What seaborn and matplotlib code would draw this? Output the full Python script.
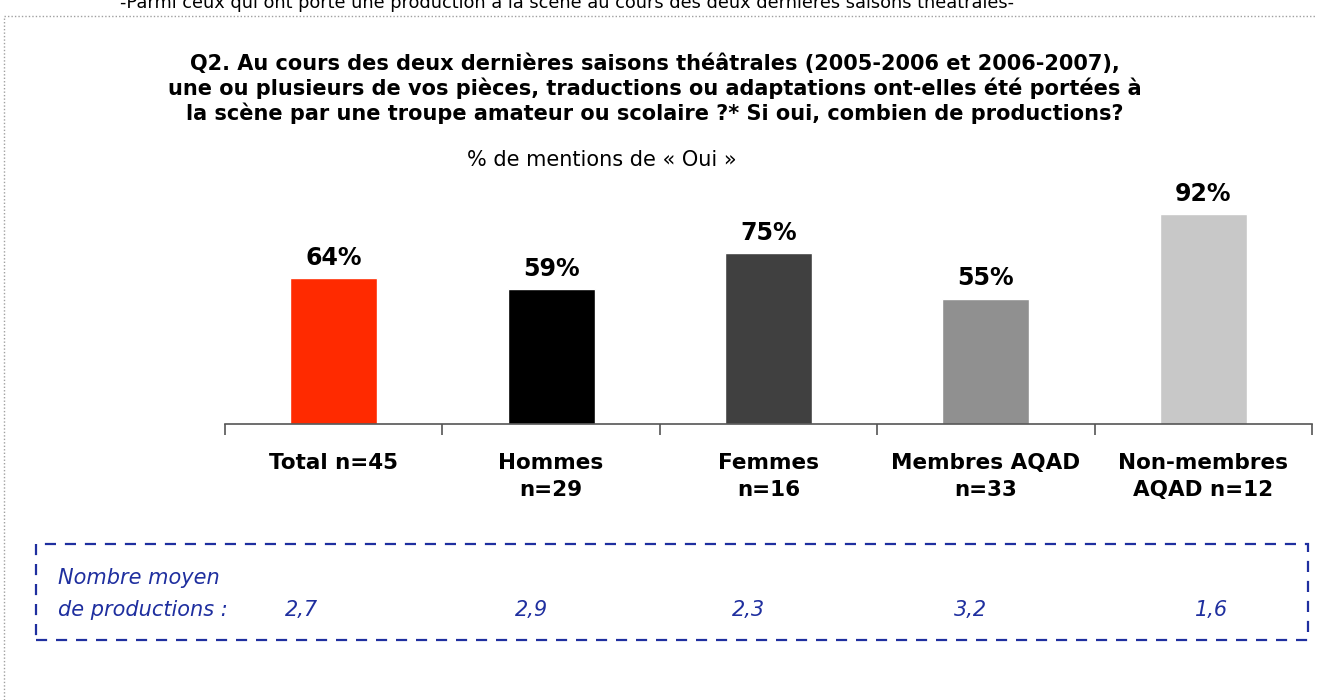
import numpy as np
import pandas as pd
import seaborn as sns
import matplotlib.pyplot as plt
from matplotlib.patches import Rectangle
from matplotlib.lines import Line2D

categories = ["Total n=45", "Hommes\nn=29", "Femmes\nn=16", "Membres AQAD\nn=33", "Non-membres\nAQAD n=12"]
pct_oui = [64, 59, 75, 55, 92]
nb_moyen = ["2,7", "2,9", "2,3", "3,2", "1,6"]
bar_colors = ["#FF2A00", "#000000", "#404040", "#909090", "#C8C8C8"]

sns.set_theme(style="white")
plt.rcParams['font.family'] = ['DejaVu Sans']
plt.rcParams['text.color'] = 'black'
plt.rcParams['xtick.color'] = 'black'

df = pd.DataFrame({"cat": categories, "pct": pct_oui})

fig = plt.figure(figsize=(13.17, 7.0), dpi=100)
ax = fig.add_axes([225 / 1317, 276 / 700, 1087 / 1317, 228 / 700])

sns.barplot(data=df, x="cat", y="pct", hue="cat", palette=bar_colors,
            width=0.4, saturation=1, legend=False, ax=ax)
ax.set_xlim(-0.5, 4.5)
ax.set_ylim(0, 100)
ax.set_xlabel("")
ax.set_ylabel("")
ax.set_yticks([])
for s in ["top", "right", "left"]:
    ax.spines[s].set_visible(False)
ax.spines["bottom"].set_color("#555555")
ax.spines["bottom"].set_linewidth(1.2)

ax.set_xticks(range(len(categories)))
ax.set_xticklabels(categories, fontsize=15.5, fontweight="bold", linespacing=1.4, color="black")
ax.tick_params(axis="x", which="major", length=0, pad=21)
ax.set_xticks(np.arange(-0.5, len(categories)), minor=True)
ax.tick_params(axis="x", which="minor", length=8, width=1.2, color="#555555", direction="out")
ax.xaxis.set_tick_params(which="minor", bottom=True)

for i, v in enumerate(pct_oui):
    ax.annotate(f"{v}%", (i, v), xytext=(0, 6), textcoords="offset points",
                ha="center", va="bottom", fontsize=17, fontweight="bold", color="black")

# figure texts
fig.text(567 / 1317, 1 - 3 / 700, "-Parmi ceux qui ont porté une production à la scène au cours des deux dernières saisons théâtrales-",
         ha="center", va="center", fontsize=12.8, color="black")
fig.text(655 / 1317, 1 - 89 / 700,
         "Q2. Au cours des deux dernières saisons théâtrales (2005-2006 et 2006-2007),\n"
         "une ou plusieurs de vos pièces, traductions ou adaptations ont-elles été portées à\n"
         "la scène par une troupe amateur ou scolaire ?* Si oui, combien de productions?",
         ha="center", va="center", fontsize=15, fontweight="bold", linespacing=1.2, color="black")
fig.text(602 / 1317, 1 - 160 / 700, "% de mentions de « Oui »", ha="center", va="center",
         fontsize=15, color="black")

# outer dotted frame
fig.add_artist(Line2D([4 / 1317, 4 / 1317], [0, 1 - 16 / 700], transform=fig.transFigure,
                      color="#A0A0A0", lw=1, linestyle=(0, (1, 1.5))))
fig.add_artist(Line2D([4 / 1317, 1], [1 - 16 / 700, 1 - 16 / 700], transform=fig.transFigure,
                      color="#A0A0A0", lw=1, linestyle=(0, (1, 1.5))))

# dashed box with average number of productions
blue = "#1F2F9F"
fig.add_artist(Rectangle((36 / 1317, 1 - 640 / 700), (1308 - 36) / 1317, 96 / 700,
                         transform=fig.transFigure, fill=False, edgecolor=blue,
                         lw=1.6, linestyle=(0, (5, 4))))
fig.text(58 / 1317, 1 - 578 / 700, "Nombre moyen", ha="left", va="center",
         fontsize=15, style="italic", color=blue)
fig.text(58 / 1317, 1 - 610 / 700, "de productions :", ha="left", va="center",
         fontsize=15, style="italic", color=blue)
offsets = [-0.15, -0.09, -0.09, -0.07, 0.04]
for i, (val, off) in enumerate(zip(nb_moyen, offsets)):
    x_fig = fig.transFigure.inverted().transform(ax.transData.transform((i + off, 0)))[0]
    fig.text(x_fig, 1 - 610 / 700, val, ha="center", va="center",
             fontsize=15, style="italic", color=blue)

fig.savefig("out.png", dpi=100)
